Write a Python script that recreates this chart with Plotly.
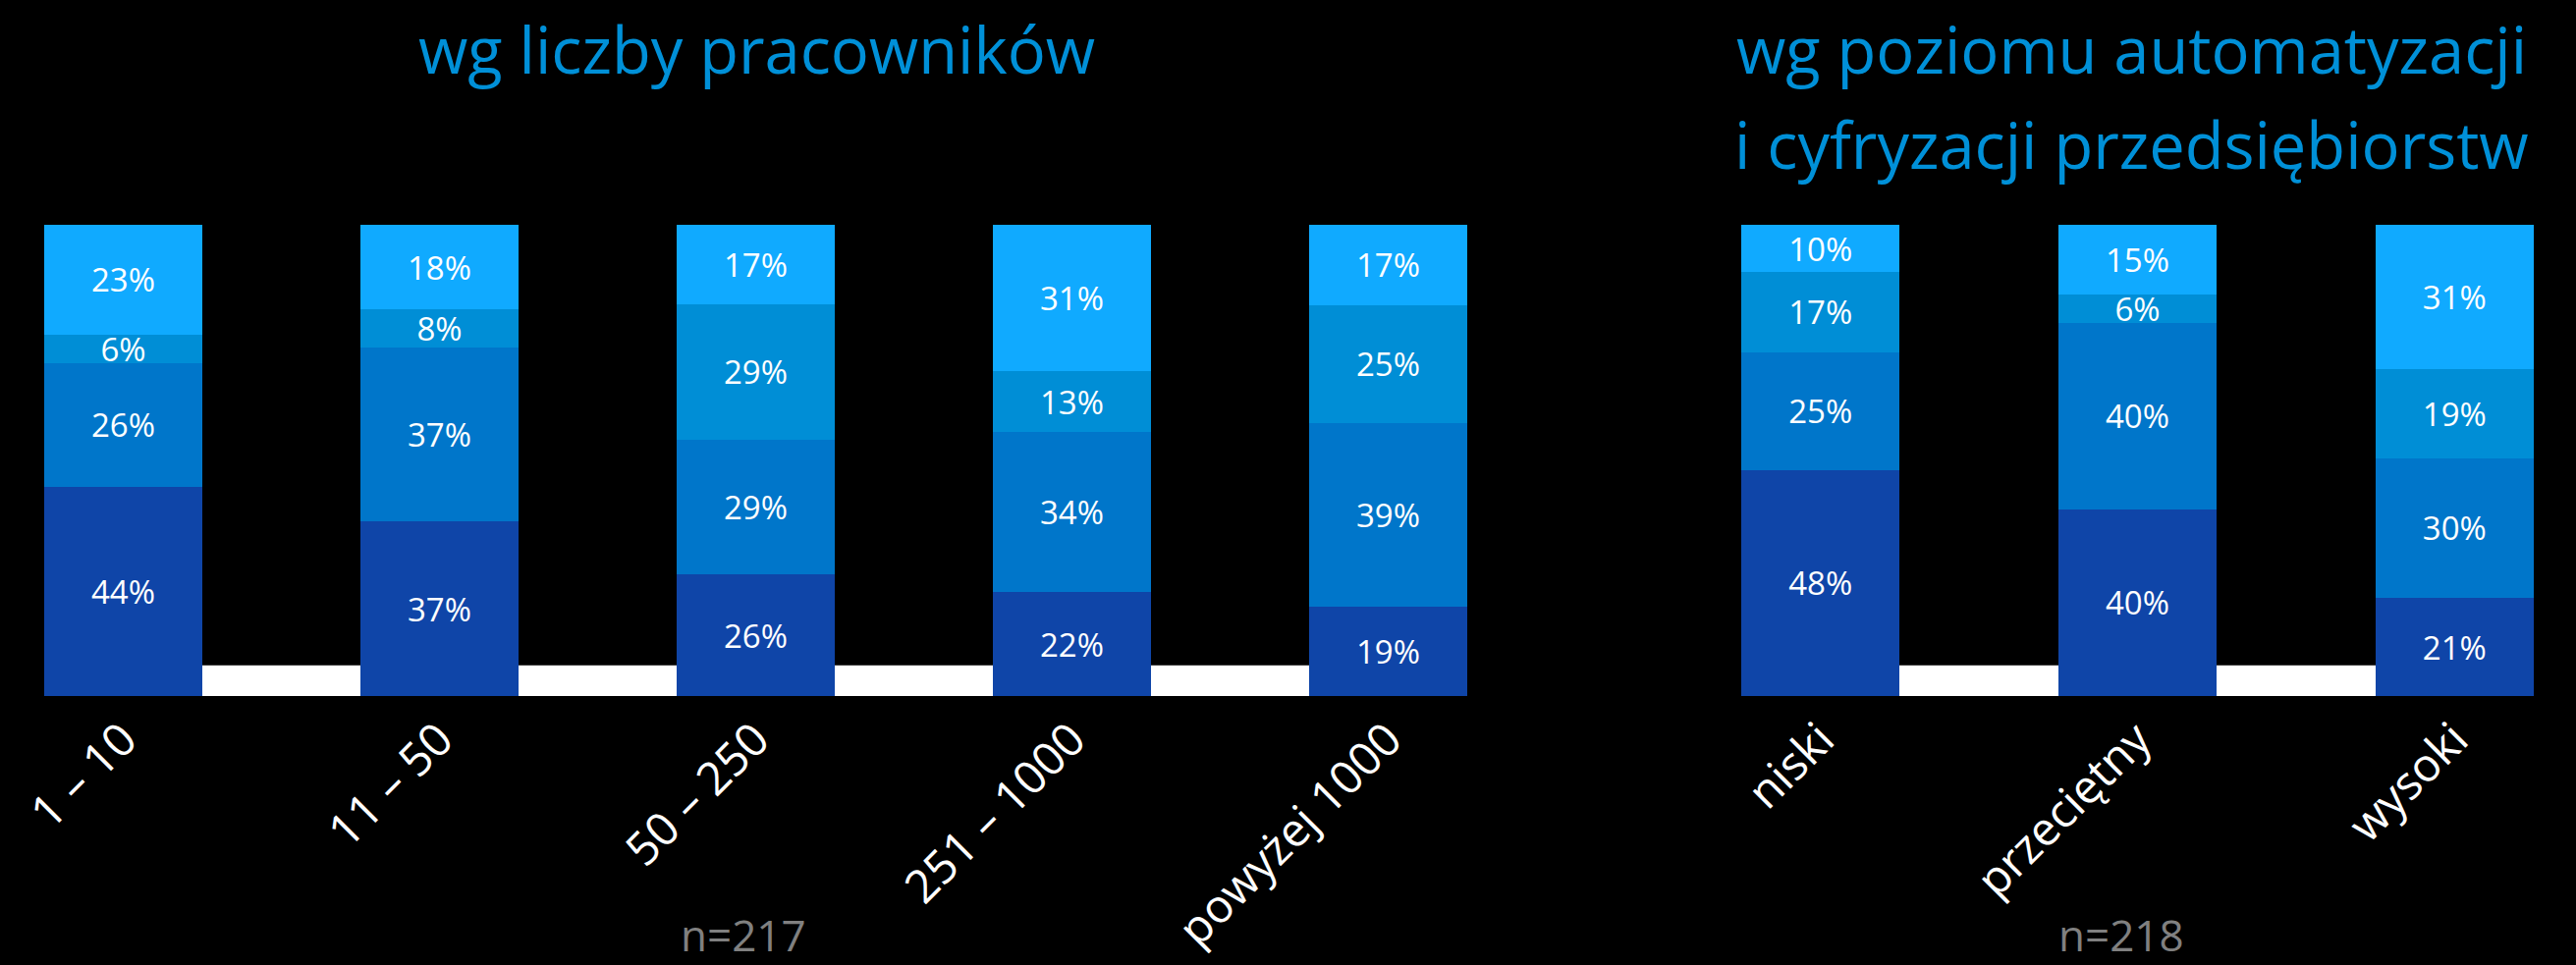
import plotly.graph_objects as go

# ---- data ----
cats_size = ["1 – 10", "11 – 50", "50 – 250", "251 – 1000", "powyżej 1000"]
size_s1 = [44, 37, 26, 22, 19]   # bottom segment
size_s2 = [26, 37, 29, 34, 39]
size_s3 = [6, 8, 29, 13, 25]
size_s4 = [23, 18, 17, 31, 17]   # top segment

cats_auto = ["niski", "przeciętny", "wysoki"]
auto_s1 = [48, 40, 21]
auto_s2 = [25, 40, 30]
auto_s3 = [17, 6, 19]
auto_s4 = [10, 15, 31]

title_size = "wg liczby pracowników"
title_auto_1 = "wg poziomu automatyzacji"
title_auto_2 = "i cyfryzacji przedsiębiorstw"
n_size = "n=217"
n_auto = "n=218"

colors = ["#0F45A8", "#0076CA", "#008ED6", "#10AAFF"]
FONT = "Open Sans"
W, H = 2623, 983

fig = go.Figure()

def add_group(cats, series, xa, ya):
    for vals, col in zip(series, colors):
        fig.add_trace(go.Bar(
            x=cats, y=vals, xaxis=xa, yaxis=ya,
            marker=dict(color=col, line=dict(width=0)),
            text=[f"{v}%" for v in vals],
            textposition="inside", insidetextanchor="middle", textangle=0,
            textfont=dict(family=FONT, size=33, color="white"),
            showlegend=False, hoverinfo="skip",
        ))

add_group(cats_size, [size_s1, size_s2, size_s3, size_s4], "x", "y")
add_group(cats_auto, [auto_s1, auto_s2, auto_s3, auto_s4], "x2", "y2")

# white base strip behind bars
for xr, yr, cats in [("x", "y", cats_size), ("x2", "y2", cats_auto)]:
    fig.add_shape(type="rect", xref=xr, yref=yr, x0=0, x1=len(cats) - 1,
                  y0=0, y1=6.5, fillcolor="white", line=dict(width=0), layer="below")

ydom = [(H - 709) / H, (H - 229) / H]
axis_common = dict(showgrid=False, zeroline=False, showline=False, ticks="",
                   tickangle=-45, ticklabelstandoff=6, automargin=False,
                   tickfont=dict(family=FONT, size=47, color="white"))
fig.update_layout(
    width=W, height=H,
    paper_bgcolor="black", plot_bgcolor="black",
    margin=dict(l=0, r=0, t=0, b=0, pad=0),
    barmode="stack", barnorm="percent", bargap=0.5,
    uniformtext=dict(minsize=33, mode="show"),
    xaxis=dict(domain=[45 / W, 1494 / W], range=[-0.25, 4.25], type="category",
               anchor="y", **axis_common),
    xaxis2=dict(domain=[1773 / W, 2580 / W], range=[-0.25, 2.25], type="category",
                anchor="y2", **axis_common),
    yaxis=dict(domain=ydom, range=[0, 100], visible=False, anchor="x"),
    yaxis2=dict(domain=ydom, range=[0, 100], visible=False, anchor="x2"),
)

title_font = dict(family=FONT, size=65, color="#0090D8")
fig.add_annotation(text=title_size, x=770 / W, y=1 - 50 / H, xref="paper", yref="paper",
                   showarrow=False, xanchor="center", yanchor="middle", font=title_font)
fig.add_annotation(text=title_auto_1, x=2170 / W, y=1 - 50 / H, xref="paper", yref="paper",
                   showarrow=False, xanchor="center", yanchor="middle", font=title_font)
fig.add_annotation(text=title_auto_2, x=2170 / W, y=1 - 147 / H, xref="paper", yref="paper",
                   showarrow=False, xanchor="center", yanchor="middle", font=title_font)

n_font = dict(family=FONT, size=44, color="#808080")
fig.add_annotation(text=n_size, x=757 / W, y=1 - 952 / H, xref="paper", yref="paper",
                   showarrow=False, xanchor="center", yanchor="middle", font=n_font)
fig.add_annotation(text=n_auto, x=2160 / W, y=1 - 952 / H, xref="paper", yref="paper",
                   showarrow=False, xanchor="center", yanchor="middle", font=n_font)

fig.write_html(
    "out.html",
    config={"displayModeBar": False},
    post_script="document.body.style.margin='0';document.body.style.overflow='hidden';"
                "document.body.style.background='black';"
                "document.documentElement.style.background='black';",
)
